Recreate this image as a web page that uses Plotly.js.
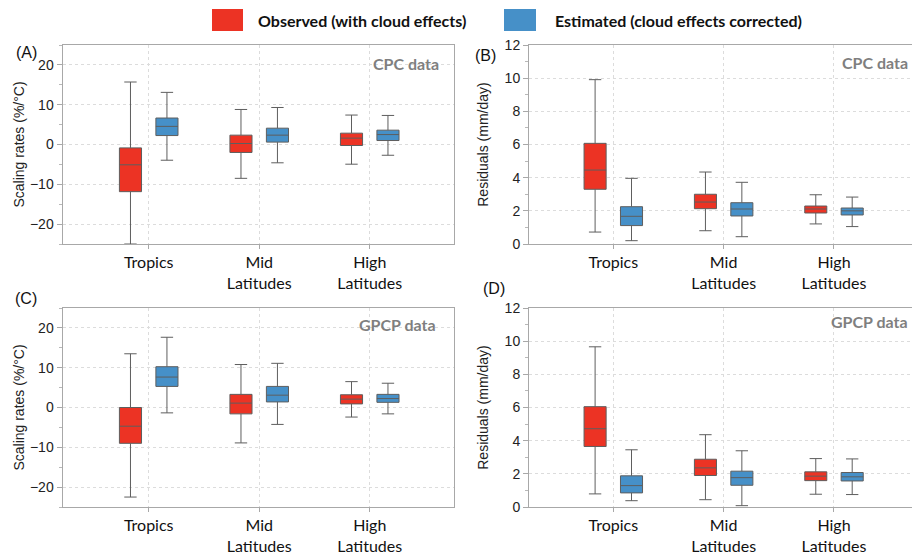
<!DOCTYPE html>
<html>
<head>
<meta charset="utf-8">
<script src="https://cdn.plot.ly/plotly-3.0.1.min.js"></script>
<style>html,body{margin:0;padding:0;background:#fff;}#chart{width:912px;height:556px;}</style>
</head>
<body>
<div id="chart"></div>
<script>
// Categories (x axis)
const categories = ['Tropics', 'Mid<br>Latitudes', 'High<br>Latitudes'];

// Series names
const seriesNames = ['Observed (with cloud effects)', 'Estimated (cloud effects corrected)'];

// Five-number summaries per category: [lower whisker, Q1, median, Q3, upper whisker]
// (A) CPC scaling rates (%/°C)
const cpcScalingObserved  = [[-25.0, -11.85, -5.1, -0.85, 15.7], [-8.5, -2.0, 0.25, 2.35, 8.8], [-4.95, -0.25, 1.6, 2.85, 7.4]];
const cpcScalingEstimated = [[-3.95, 2.25, 4.55, 6.65, 13.1], [-4.6, 0.6, 2.35, 4.1, 9.3], [-2.7, 1.0, 2.5, 3.6, 7.3]];
// (B) CPC residuals (mm/day)
const cpcResidObserved    = [[0.72, 3.3, 4.46, 6.07, 9.91], [0.8, 2.13, 2.53, 3.0, 4.34], [1.21, 1.87, 2.11, 2.29, 2.97]];
const cpcResidEstimated   = [[0.2, 1.11, 1.67, 2.25, 3.96], [0.44, 1.69, 2.11, 2.49, 3.72], [1.05, 1.75, 2.0, 2.17, 2.83]];
// (C) GPCP scaling rates (%/°C)
const gpcpScalingObserved  = [[-22.5, -9.0, -4.7, 0.0, 13.5], [-8.9, -1.6, 1.1, 3.3, 10.8], [-2.4, 0.9, 2.1, 3.2, 6.5]];
const gpcpScalingEstimated = [[-1.35, 5.3, 7.65, 10.25, 17.65], [-4.25, 1.4, 3.1, 5.3, 11.1], [-1.6, 1.3, 2.25, 3.3, 6.1]];
// (D) GPCP residuals (mm/day)
const gpcpResidObserved    = [[0.79, 3.65, 4.72, 6.05, 9.66], [0.44, 1.9, 2.36, 2.88, 4.36], [0.77, 1.59, 1.86, 2.12, 2.92]];
const gpcpResidEstimated   = [[0.38, 0.85, 1.29, 1.88, 3.45], [0.08, 1.31, 1.77, 2.16, 3.39], [0.75, 1.57, 1.82, 2.08, 2.9]];

// Axis tick values
const scalingTicks = [-20, -10, 0, 10, 20];
const residTicks = [0, 2, 4, 6, 8, 10, 12];

const colors = ['#EC3324', '#4690C8'];

function makeBox(stats, idx, xa, ya) {
  return {
    type: 'box',
    name: seriesNames[idx],
    x: categories,
    lowerfence: stats.map(s => s[0]),
    q1: stats.map(s => s[1]),
    median: stats.map(s => s[2]),
    q3: stats.map(s => s[3]),
    upperfence: stats.map(s => s[4]),
    xaxis: xa, yaxis: ya,
    offsetgroup: 'g' + idx,
    fillcolor: colors[idx],
    line: {color: '#5e5e5e', width: 1},
    whiskerwidth: 0.56,
    boxpoints: false,
    showlegend: false,
    hoverinfo: 'skip'
  };
}

const traces = [
  makeBox(cpcScalingObserved, 0, 'x', 'y'),
  makeBox(cpcScalingEstimated, 1, 'x', 'y'),
  makeBox(cpcResidObserved, 0, 'x2', 'y2'),
  makeBox(cpcResidEstimated, 1, 'x2', 'y2'),
  makeBox(gpcpScalingObserved, 0, 'x3', 'y3'),
  makeBox(gpcpScalingEstimated, 1, 'x3', 'y3'),
  makeBox(gpcpResidObserved, 0, 'x4', 'y4'),
  makeBox(gpcpResidEstimated, 1, 'x4', 'y4')
];

const W = 912, H = 556;
const tickFont = {family: 'Liberation Sans, Arial, sans-serif', size: 14, color: '#222'};
const catFont = {family: 'Lato, sans-serif', size: 16, color: '#111'};

function xAxis(domain, range, anchor) {
  return {
    domain: domain, range: range, anchor: anchor, type: 'category',
    showline: true, linecolor: '#a8a8a8', linewidth: 1, mirror: true,
    ticks: 'outside', ticklen: 4, tickcolor: '#a8a8a8',
    showgrid: true, gridcolor: '#dcdcdc', griddash: 'dot', gridwidth: 1,
    tickfont: catFont, zeroline: false, fixedrange: true
  };
}
function yAxis(domain, range, anchor, tickvals, minorDtick, title, standoff) {
  return {
    domain: domain, range: range, anchor: anchor,
    tickvals: tickvals,
    showline: true, linecolor: '#a8a8a8', linewidth: 1, mirror: true,
    ticks: 'outside', ticklen: 5, tickcolor: '#a8a8a8',
    minor: {dtick: minorDtick, ticks: 'outside', ticklen: 3, tickcolor: '#b8b8b8', showgrid: false},
    showgrid: true, gridcolor: '#dcdcdc', griddash: 'dot', gridwidth: 1,
    zeroline: false, tickfont: tickFont,
    title: {text: title, font: {family: 'Liberation Sans, Arial, sans-serif', size: 14, color: '#222'}, standoff: standoff},
    fixedrange: true
  };
}

const domXLeft = [62.5 / W, 453.5 / W];
const domXRight = [529 / W, 1];
const domYTop = [1 - 244 / H, 1 - 45 / H];
const domYBot = [1 - 507 / H, 1 - 308 / H];
const rangeXLeft = [-0.78, 2.758];
const rangeXRight = [-0.764, 2.707];

function py(p) { return 1 - p / H; }
function px(p) { return p / W; }

const labelFont = {family: 'Liberation Sans, Arial, sans-serif', size: 16, color: '#111'};
const dataFont = {family: 'Lato, sans-serif', size: 16, color: '#7f7f7f', weight: 'bold'};
const legFont = {family: 'Lato, sans-serif', size: 16, color: '#111', weight: 'bold'};

const annotations = [
  {text: '(A)', x: px(14), y: py(53), xref: 'paper', yref: 'paper', xanchor: 'left', yanchor: 'middle', showarrow: false, font: labelFont},
  {text: '(B)', x: px(473), y: py(55), xref: 'paper', yref: 'paper', xanchor: 'left', yanchor: 'middle', showarrow: false, font: labelFont},
  {text: '(C)', x: px(13), y: py(298), xref: 'paper', yref: 'paper', xanchor: 'left', yanchor: 'middle', showarrow: false, font: labelFont},
  {text: '(D)', x: px(481), y: py(288), xref: 'paper', yref: 'paper', xanchor: 'left', yanchor: 'middle', showarrow: false, font: labelFont},
  {text: 'CPC data', x: px(441), y: py(64), xref: 'paper', yref: 'paper', xanchor: 'right', yanchor: 'middle', showarrow: false, font: dataFont},
  {text: 'CPC data', x: px(910), y: py(63), xref: 'paper', yref: 'paper', xanchor: 'right', yanchor: 'middle', showarrow: false, font: dataFont},
  {text: 'GPCP data', x: px(438), y: py(324), xref: 'paper', yref: 'paper', xanchor: 'right', yanchor: 'middle', showarrow: false, font: dataFont},
  {text: 'GPCP data', x: px(910), y: py(321), xref: 'paper', yref: 'paper', xanchor: 'right', yanchor: 'middle', showarrow: false, font: dataFont},
  {text: seriesNames[0], x: px(256), y: py(20), xref: 'paper', yref: 'paper', xanchor: 'left', yanchor: 'middle', showarrow: false, font: legFont},
  {text: seriesNames[1], x: px(553), y: py(20), xref: 'paper', yref: 'paper', xanchor: 'left', yanchor: 'middle', showarrow: false, font: legFont}
];

const shapes = [
  {type: 'rect', xref: 'paper', yref: 'paper', x0: px(212), x1: px(243), y0: py(31), y1: py(9), fillcolor: colors[0], line: {width: 0}},
  {type: 'rect', xref: 'paper', yref: 'paper', x0: px(504), x1: px(536), y0: py(31), y1: py(9), fillcolor: colors[1], line: {width: 0}}
];

const layout = {
  width: W, height: H,
  margin: {l: 0, r: 0, t: 0, b: 0},
  paper_bgcolor: '#fff', plot_bgcolor: '#fff',
  showlegend: false,
  boxmode: 'group',
  boxgap: 0.34,
  boxgroupgap: 0.394,
  xaxis: xAxis(domXLeft, rangeXLeft, 'y'),
  yaxis: yAxis(domYTop, [-25, 25], 'x', scalingTicks, 5, 'Scaling rates (%/°C)', 2),
  xaxis2: xAxis(domXRight, rangeXRight, 'y2'),
  yaxis2: yAxis(domYTop, [0, 12], 'x2', residTicks, 1, 'Residuals (mm/day)', 12),
  xaxis3: xAxis(domXLeft, rangeXLeft, 'y3'),
  yaxis3: yAxis(domYBot, [-25, 25], 'x3', scalingTicks, 5, 'Scaling rates (%/°C)', 2),
  xaxis4: xAxis(domXRight, rangeXRight, 'y4'),
  yaxis4: yAxis(domYBot, [0, 12], 'x4', residTicks, 1, 'Residuals (mm/day)', 12),
  annotations: annotations,
  shapes: shapes
};

Plotly.newPlot('chart', traces, layout, {displayModeBar: false, staticPlot: true});
</script>
</body>
</html>
